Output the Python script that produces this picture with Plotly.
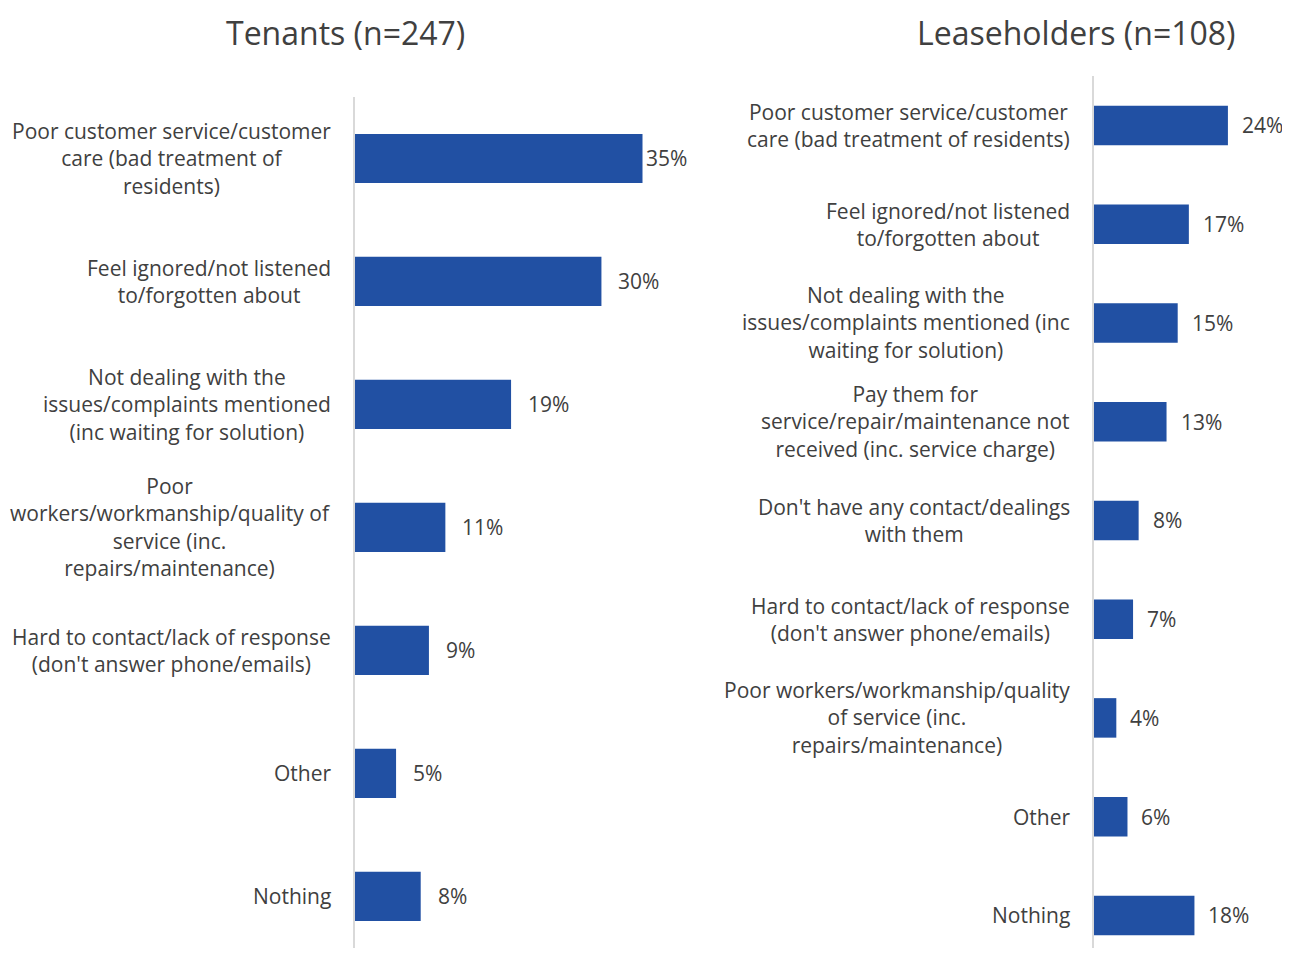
import plotly.graph_objects as go

# ---------------- data ----------------
tenant_cats = [
    "Poor customer service/customer<br>care (bad treatment of<br>residents)",
    "Feel ignored/not listened<br>to/forgotten about",
    "Not dealing with the<br>issues/complaints mentioned<br>(inc waiting for solution)",
    "Poor<br>workers/workmanship/quality of<br>service (inc.<br>repairs/maintenance)",
    "Hard to contact/lack of response<br>(don't answer phone/emails)",
    "Other",
    "Nothing",
]
tenant_vals = [35, 30, 19, 11, 9, 5, 8]

lease_cats = [
    "Poor customer service/customer<br>care (bad treatment of residents)",
    "Feel ignored/not listened<br>to/forgotten about",
    "Not dealing with the<br>issues/complaints mentioned (inc<br>waiting for solution)",
    "Pay them for<br>service/repair/maintenance not<br>received (inc. service charge)",
    "Don't have any contact/dealings<br>with them",
    "Hard to contact/lack of response<br>(don't answer phone/emails)",
    "Poor workers/workmanship/quality<br>of service (inc.<br>repairs/maintenance)",
    "Other",
    "Nothing",
]
lease_vals = [24, 17, 15, 13, 8, 7, 4, 6, 18]

titles = ["Tenants (n=247)", "Leaseholders (n=108)"]

# ---------------- style ----------------
OFF = 8                      # page body margin
W, H = 1290 - OFF, 956 - 2 * OFF
BAR = "#2150A3"
TXT = "#404040"
FONT = "Open Sans"
FS = 21


def px_x(p):
    return (p - OFF) / W


def px_y(p):
    return 1 - (p - OFF) / H


fig = go.Figure()

fig.add_trace(go.Bar(
    x=tenant_vals, y=list(range(len(tenant_cats))), orientation="h",
    marker=dict(color=BAR, line=dict(width=0)), width=0.4,
    xaxis="x", yaxis="y", hoverinfo="skip",
))
fig.add_trace(go.Bar(
    x=lease_vals, y=list(range(len(lease_cats))), orientation="h",
    marker=dict(color=BAR, line=dict(width=0)), width=0.4,
    xaxis="x2", yaxis="y2", hoverinfo="skip",
))

ann = []
for i, (c, v) in enumerate(zip(tenant_cats, tenant_vals)):
    ann.append(dict(x=0, y=i, xref="x", yref="y", text=c, showarrow=False,
                    xanchor="right", yanchor="middle", align="center", xshift=-22,
                    font=dict(family=FONT, size=FS, color=TXT)))
    ann.append(dict(x=v, y=i, xref="x", yref="y", text=f"{v}%", showarrow=False,
                    xanchor="left", yanchor="middle", xshift=(1 if i == 0 else 15),
                    font=dict(family=FONT, size=FS, color=TXT)))
for i, (c, v) in enumerate(zip(lease_cats, lease_vals)):
    ann.append(dict(x=0, y=i, xref="x2", yref="y2", text=c, showarrow=False,
                    xanchor="right", yanchor="middle", align="center", xshift=-22,
                    font=dict(family=FONT, size=FS, color=TXT)))
    ann.append(dict(x=v, y=i, xref="x2", yref="y2", text=f"{v}%", showarrow=False,
                    xanchor="left", yanchor="middle", xshift=12,
                    font=dict(family=FONT, size=FS, color=TXT)))

ann.append(dict(x=px_x(345), y=px_y(32), xref="paper", yref="paper", text=titles[0],
                showarrow=False, xanchor="center", yanchor="middle",
                font=dict(family=FONT, size=32, color=TXT)))
ann.append(dict(x=px_x(1076), y=px_y(32), xref="paper", yref="paper", text=titles[1],
                showarrow=False, xanchor="center", yanchor="middle",
                font=dict(family=FONT, size=32, color=TXT)))

axis_common = dict(showgrid=False, zeroline=False, showticklabels=False, ticks="")
fig.update_layout(
    width=W, height=H,
    margin=dict(l=0, r=0, t=0, b=0),
    paper_bgcolor="white", plot_bgcolor="white",
    showlegend=False,
    xaxis=dict(domain=[px_x(355), px_x(700)], range=[0, 42], anchor="y", **axis_common),
    yaxis=dict(domain=[0, px_y(97)], range=[6.42, -0.5], anchor="x",
               showline=True, linecolor="#D9D9D9", linewidth=2, **axis_common),
    xaxis2=dict(domain=[px_x(1094), px_x(1280)], range=[0, 186 / 5.58], anchor="y2",
                **axis_common),
    yaxis2=dict(domain=[0, px_y(76)], range=[8.33, -0.5], anchor="x2",
                showline=True, linecolor="#D9D9D9", linewidth=2, **axis_common),
    annotations=ann,
)

fig.write_html("out.html")
